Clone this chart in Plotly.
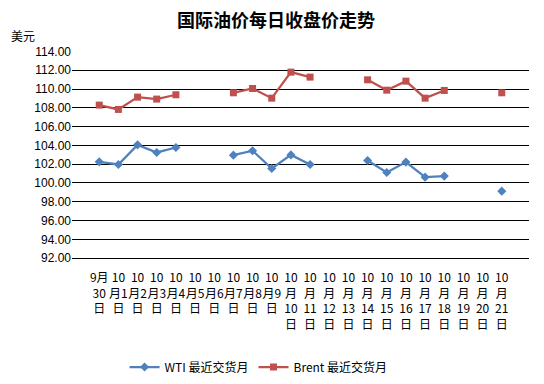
import plotly.graph_objects as go

categories = ["9月30日", "10月1日", "10月2日", "10月3日", "10月4日", "10月5日", "10月6日",
              "10月7日", "10月8日", "10月9日", "10月10日", "10月11日", "10月12日", "10月13日",
              "10月14日", "10月15日", "10月16日", "10月17日", "10月18日", "10月19日",
              "10月20日", "10月21日"]
tick_labels = ["9月<br>30<br>日", "10<br>月1<br>日", "10<br>月2<br>日", "10<br>月3<br>日",
               "10<br>月4<br>日", "10<br>月5<br>日", "10<br>月6<br>日", "10<br>月7<br>日",
               "10<br>月8<br>日", "10<br>月9<br>日", "10<br>月<br>10<br>日", "10<br>月<br>11<br>日",
               "10<br>月<br>12<br>日", "10<br>月<br>13<br>日", "10<br>月<br>14<br>日",
               "10<br>月<br>15<br>日", "10<br>月<br>16<br>日", "10<br>月<br>17<br>日",
               "10<br>月<br>18<br>日", "10<br>月<br>19<br>日", "10<br>月<br>20<br>日",
               "10<br>月<br>21<br>日"]
wti = [102.25, 101.97, 104.06, 103.25, 103.78, None, None, 102.96, 103.43, 101.54,
       102.99, 101.97, None, None, 102.40, 101.12, 102.22, 100.62, 100.73, None, None, 99.13]
brent = [108.29, 107.83, 109.14, 108.93, 109.39, None, None, 109.60, 110.06, 109.03,
         111.80, 111.27, None, None, 110.98, 109.88, 110.84, 109.03, 109.85, None, None, 109.60]
y_ticks = [92, 94, 96, 98, 100, 102, 104, 106, 108, 110, 112, 114]

# page body has an 8px default margin, so the figure is drawn 8px smaller/offset
W, H = 536, 376

fig = go.Figure()
fig.add_trace(go.Scatter(x=categories, y=wti, name="WTI 最近交货月", mode="lines+markers",
                         connectgaps=False,
                         line=dict(color="#4F81BD", width=2.25),
                         marker=dict(symbol="diamond", size=7, color="#4F81BD")))
fig.add_trace(go.Scatter(x=categories, y=brent, name="Brent 最近交货月", mode="lines+markers",
                         connectgaps=False,
                         line=dict(color="#C0504D", width=2.25),
                         marker=dict(symbol="square", size=7, color="#C0504D")))

fig.update_layout(
    width=W, height=H,
    margin=dict(l=64, r=15, t=43, b=124),
    paper_bgcolor="white", plot_bgcolor="white",
    title=dict(text="<b>国际油价每日收盘价走势</b>", x=0.5, xref="container", xanchor="center",
               y=1 - 13 / H, yanchor="middle",
               font=dict(family="Noto Sans CJK SC", size=18, color="black")),
    showlegend=True,
    legend=dict(orientation="h", xref="paper", x=0.115, xanchor="left",
                yref="container", y=(H - 359) / H, yanchor="middle",
                font=dict(family="Noto Sans CJK SC", size=12, color="black")),
    font=dict(family="Liberation Sans", size=12, color="black"),
    annotations=[dict(text="美元", xref="paper", yref="paper", x=-0.108, y=1.0, xanchor="center",
                      yanchor="bottom", showarrow=False, yshift=5,
                      font=dict(family="Noto Sans CJK SC", size=12, color="black"))],
)
fig.update_xaxes(type="category", tickmode="array", tickvals=categories, ticktext=tick_labels,
                 showgrid=False, showline=False, ticks="", tickangle=0, automargin=False,
                 ticklabelstandoff=9,
                 tickfont=dict(family="Noto Sans CJK SC", size=12, color="black"))
fig.update_yaxes(range=[91.8, 114.05], tickmode="array", tickvals=y_ticks, tickformat=".2f",
                 showgrid=True, gridcolor="black", gridwidth=1, zeroline=False, showline=False,
                 ticks="", automargin=False,
                 tickfont=dict(family="Liberation Sans", size=12, color="black"))

fig.write_html("out.html")
